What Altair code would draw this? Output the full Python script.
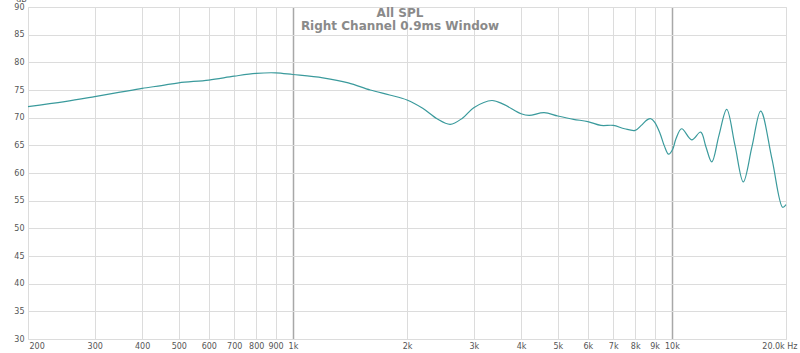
import altair as alt
import pandas as pd

freq = [200, 250, 300, 350, 400, 450, 500, 600, 700, 800, 900, 1000, 1200, 1400,
        1600, 1800, 2000, 2200, 2400, 2600, 2800, 3000, 3350, 3600, 4000, 4200,
        4600, 5000, 5500, 6000, 6500, 7000, 7500, 8000, 8300, 8600, 8800, 9000,
        9300, 9550, 9800, 10050, 10250, 10610, 11280, 11910, 12300, 12740, 13310,
        13950, 14670, 15430, 16270, 17150, 18370, 19600, 20000]
spl = [72.0, 72.9, 73.8, 74.6, 75.3, 75.8, 76.3, 76.8, 77.5, 78.0, 78.1, 77.8,
       77.2, 76.3, 75.0, 74.1, 73.2, 71.7, 69.8, 68.8, 69.9, 71.8, 73.1, 72.4,
       70.7, 70.4, 70.9, 70.3, 69.7, 69.3, 68.6, 68.6, 68.0, 67.7, 68.6, 69.6,
       69.8, 69.2, 67.2, 64.9, 63.4, 64.3, 66.2, 68.0, 66.0, 67.4, 64.7, 62.0,
       66.8, 71.5, 65.0, 58.4, 64.8, 71.2, 62.5, 53.8, 54.3]

x_ticks = [200, 300, 400, 500, 600, 700, 800, 900, 1000, 2000, 3000, 4000,
           5000, 6000, 7000, 8000, 9000, 10000, 20000]
y_ticks = list(range(30, 91, 5))
title_main = "All SPL"
title_sub = "Right Channel 0.9ms Window"

df = pd.DataFrame({"freq": freq, "spl": spl})

label_font = "DejaVu Sans"

x_axis = alt.Axis(
    values=x_ticks,
    labelExpr="datum.value == 20000 ? '20.0k Hz' : datum.value >= 1000 ? (datum.value / 1000) + 'k' : '' + datum.value",
    title=None,
    domain=False,
    ticks=False,
    labelFont=label_font,
    labelFontSize=8,
    labelColor="#555555",
    labelPadding=3,
    labelAlign={"expr": "datum.value == 200 ? 'left' : datum.value == 20000 ? 'right' : 'center'"},
    labelOffset={"expr": "datum.value == 20000 ? 11 : datum.value == 200 ? 1 : 0"},
    grid=True,
    gridColor={"condition": {"test": "datum.value == 1000 || datum.value == 10000",
                             "value": "#a8a8a8"}, "value": "#dcdcdc"},
    gridWidth={"condition": {"test": "datum.value == 1000 || datum.value == 10000",
                             "value": 1.5}, "value": 1},
)

y_axis = alt.Axis(
    values=y_ticks,
    title="dB",
    titleAngle=0,
    titleFont=label_font,
    titleFontSize=8,
    titleFontWeight="normal",
    titleColor="#555555",
    titleX=-7,
    titleY=-4,
    titleAlign="center",
    titleBaseline="bottom",
    domain=False,
    ticks=False,
    labelFont=label_font,
    labelFontSize=8,
    labelColor="#555555",
    labelPadding=4,
    grid=True,
    gridColor="#dcdcdc",
    gridWidth=1,
)

chart = alt.Chart(df).mark_line(
    interpolate="catmull-rom", color="#3a9a9c", strokeWidth=1.2
).encode(
    x=alt.X("freq:Q", scale=alt.Scale(type="log", domain=[200, 20000], nice=False), axis=x_axis),
    y=alt.Y("spl:Q", scale=alt.Scale(domain=[30, 90], nice=False), axis=y_axis),
).properties(
    width=758,
    height=332,
    title=alt.TitleParams(
        text=title_main,
        subtitle=title_sub,
        anchor="middle",
        frame="group",
        font=label_font,
        fontSize=12,
        fontWeight="bold",
        color="#8a8a8a",
        subtitleFont=label_font,
        subtitleFontSize=12,
        subtitleFontWeight="bold",
        subtitleColor="#8a8a8a",
        subtitlePadding=1,
        offset=-38,
        dx=-7,
    ),
    autosize=alt.AutoSizeParams(type="none"),
    padding={"left": 28, "top": 7, "right": 14, "bottom": 14},
).configure_view(
    stroke="#bdbdbd", strokeWidth=3
).configure(background="white")

chart.save("out.html", embed_options={"renderer": "svg", "actions": False})
